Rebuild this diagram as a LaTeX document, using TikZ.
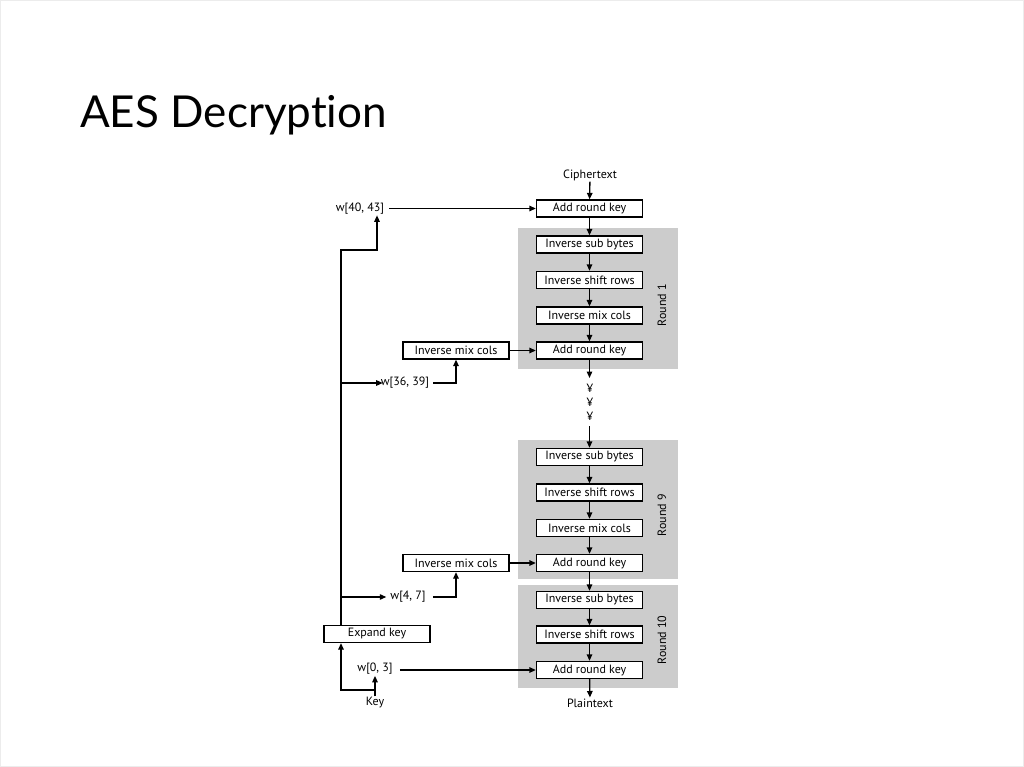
\documentclass[tikz,border=0pt]{standalone}
\usepackage{fontspec}
\setmainfont{PT Sans}
\newfontfamily\titlefont[Ligatures=NoCommon]{Lato}
\usetikzlibrary{arrows.meta}
\begin{document}
\begin{tikzpicture}[x=1pt,y=-1pt,
  blk/.style={draw, line width=1.3pt, fill=white, minimum width=106pt, minimum height=17pt, inner sep=0pt, font=\fontsize{12}{13}\selectfont},
  lbl/.style={font=\fontsize{12}{13}\selectfont, inner sep=1pt},
  rlbl/.style={font=\fontsize{12}{13}\selectfont, inner sep=0pt, rotate=90},
  arr/.style={line width=1.3pt, -{Triangle[length=6.5pt,width=5.5pt]}},
  rnd/.style={fill=gray!40, draw=none}]
\useasboundingbox (0,0) rectangle (1024,767);
\draw[gray!15] (0.5,0.5) rectangle (1023.5,766.5);
\node[anchor=base west, font=\titlefont\fontsize{44}{50}\selectfont, inner sep=0pt] (title) at (80,128) {AES Decryption};
% round backgrounds
\fill[rnd] (518,228) rectangle (678,369);
\fill[rnd] (518,440) rectangle (678,579);
\fill[rnd] (518,585) rectangle (678,688);
% main column
\node[lbl] (ct) at (590,175) {Ciphertext};
\node[blk] (ark0) at (589.5,208.5) {Add round key};
\node[blk] (isb1) at (589.5,244.5) {Inverse sub bytes};
\node[blk] (isr1) at (589.5,280) {Inverse shift rows};
\node[blk] (imc1) at (589.5,315.5) {Inverse mix cols};
\node[blk] (ark1) at (589.5,350.5) {Add round key};
\node[lbl] (d1) at (590,388) {¥};
\node[lbl] (d2) at (590,402) {¥};
\node[lbl] (d3) at (590,416) {¥};
\node[blk] (isb9) at (589.5,457) {Inverse sub bytes};
\node[blk] (isr9) at (589.5,492.5) {Inverse shift rows};
\node[blk] (imc9) at (589.5,528) {Inverse mix cols};
\node[blk] (ark9) at (589.5,563) {Add round key};
\node[blk] (isb10) at (589.5,600) {Inverse sub bytes};
\node[blk] (isr10) at (589.5,634.5) {Inverse shift rows};
\node[blk] (ark10) at (589.5,670) {Add round key};
\node[lbl] (pt) at (590,703) {Plaintext};
\node[rlbl] (r1) at (662,305) {Round 1};
\node[rlbl] (r9) at (662,515) {Round 9};
\node[rlbl] (r10) at (662,640) {Round 10};
% left side
\node[blk] (limc1) at (456,350.5) {Inverse mix cols};
\node[blk] (limc9) at (456,563) {Inverse mix cols};
\node[blk] (ek) at (377,634) {Expand key};
\node[lbl] (w4043) at (360,208.5) {w[40, 43]};
\node[lbl] (w3639) at (405,383) {w[36, 39]};
\node[lbl] (w47) at (408,597) {w[4, 7]};
\node[lbl] (w03) at (375,669) {w[0, 3]};
\node[lbl] (key) at (375,703) {Key};
\coordinate (gapA) at (589.5,378);
\coordinate (gapB) at (589.5,426);
\coordinate (tw) at (377,250);
\coordinate (b1) at (341,383);
\coordinate (b2) at (341,597);
\coordinate (kb) at (375,690);
% main connectors
\draw[arr] (ct) -- (ark0);
\draw[arr] (ark0) -- (isb1);
\draw[arr] (isb1) -- (isr1);
\draw[arr] (isr1) -- (imc1);
\draw[arr] (imc1) -- (ark1);
\draw[arr] (ark1) -- (gapA);
\draw[arr] (gapB) -- (isb9);
\draw[arr] (isb9) -- (isr9);
\draw[arr] (isr9) -- (imc9);
\draw[arr] (imc9) -- (ark9);
\draw[arr] (ark9) -- (isb10);
\draw[arr] (isb10) -- (isr10);
\draw[arr] (isr10) -- (ark10);
\draw[arr] (ark10) -- (pt);
% key connectors
\draw[arr] ([xshift=4pt]w4043.east) -- (ark0.west);
\draw[arr] (limc1) -- (ark1);
\draw[arr] (limc9) -- (ark9);
\draw[arr] ([xshift=6pt]w03.east |- ark10.west) -- (ark10.west);
\draw[arr] ([xshift=-36pt]ek.north) |- (tw) -- (tw |- w4043.south);
\draw[arr] (b1) -- ([xshift=3pt]w3639.west);
\draw[arr] ([xshift=3pt]w3639.east) -| (limc1.south);
\draw[arr] (b2) -- ([xshift=-3pt]w47.west);
\draw[arr] ([xshift=6pt]w47.east) -| (limc9.south);
\draw[arr] (key.north) -- (w03.south);
\draw[arr] (kb) -| ([xshift=-36pt]ek.south);
\end{tikzpicture}
\end{document}
